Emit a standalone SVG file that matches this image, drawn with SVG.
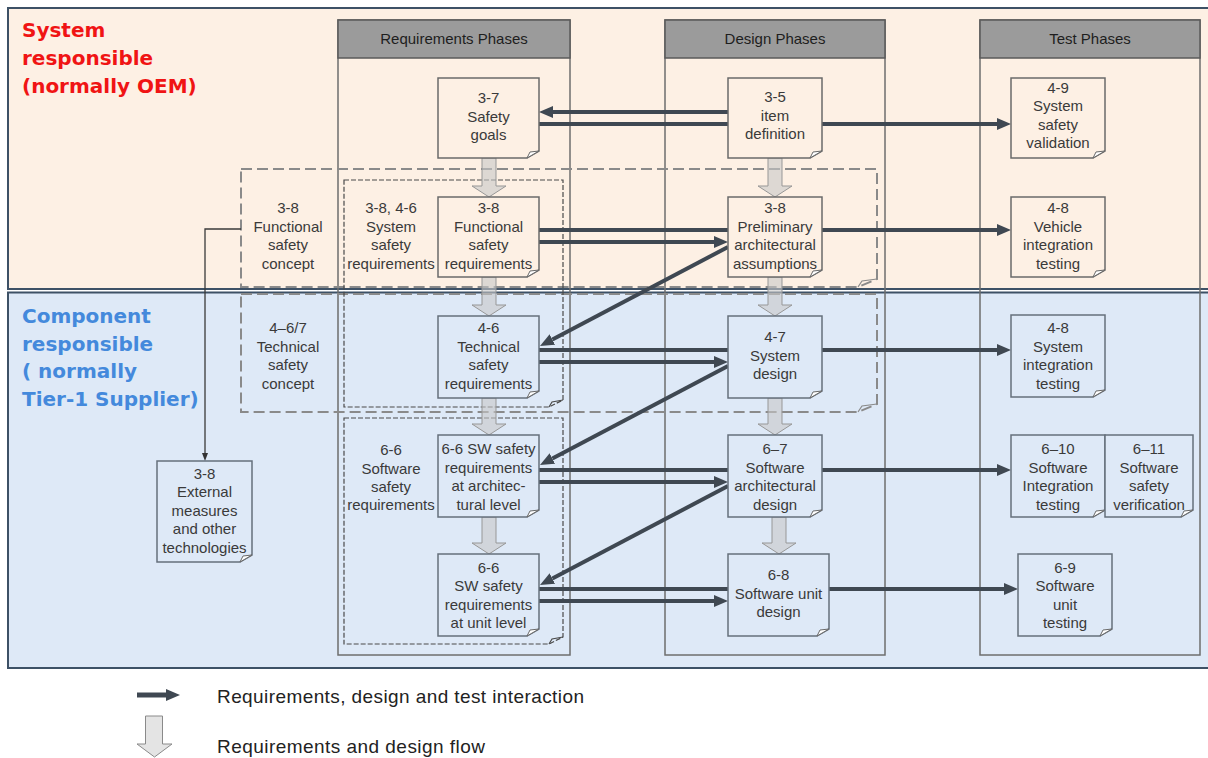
<svg xmlns="http://www.w3.org/2000/svg" width="1208" height="758" viewBox="0 0 1208 758">
<style>
.t{font-family:"Liberation Sans",Arial,sans-serif;font-size:15px;fill:#3a3a3a;text-anchor:middle}
.h{font-family:"Liberation Sans",Arial,sans-serif;font-size:15px;fill:#1e1e1e;text-anchor:middle}
.big{font-family:"DejaVu Sans",Verdana,sans-serif;font-size:20px;font-weight:bold}
.lg{font-family:"Liberation Sans",Arial,sans-serif;font-size:19px;fill:#222}
.col{fill:none;stroke:#6e6e6e;stroke-width:1.5}
.hdr{fill:#9b9b9b;stroke:#5a5a5a;stroke-width:1.5}
.nt{fill:#fdf0e4;stroke:#6a6a6a;stroke-width:1.5}
.nb{fill:#dee9f7;stroke:#66707c;stroke-width:1.5}
.fold{fill:#ffffff;stroke:#6a6a6a;stroke-width:1}
.dl{fill:none;stroke:#8a8a8a;stroke-width:2;stroke-dasharray:11 5}
.df{fill:none;stroke:#4a4a4a;stroke-width:1.2;stroke-dasharray:5 2}
.ar{fill:none;stroke:#3f4852;stroke-width:4}
.blk{fill:#c8c8c8;fill-opacity:0.6;stroke:#979797;stroke-width:1}
.thin{fill:none;stroke:#3a3a3a;stroke-width:1.3}
</style>
<defs>
<marker id="ah" markerUnits="userSpaceOnUse" markerWidth="14" markerHeight="12" refX="0" refY="6" orient="auto"><path d="M0,0 L14,6 L0,12 z" fill="#3f4852"/></marker>
<marker id="ahs" markerUnits="userSpaceOnUse" markerWidth="8" markerHeight="8" refX="0" refY="4" orient="auto"><path d="M0,1 L8,4 L0,7 z" fill="#333"/></marker>
</defs>

<g id="regions">
<rect x="8" y="8" width="1215" height="281" fill="#fdf0e4" stroke="#3d5166" stroke-width="2"/>
<rect x="8" y="292.5" width="1215" height="375.5" fill="#dee9f7" stroke="#3d5166" stroke-width="2"/>
<text class="big" fill="#f01414"><tspan x="22" y="37">System</tspan><tspan x="22" y="65">responsible</tspan><tspan x="22" y="92.5">(normally OEM)</tspan></text>
<text class="big" fill="#4489dc"><tspan x="22" y="323">Component</tspan><tspan x="22" y="350.5">responsible</tspan><tspan x="22" y="378">( normally</tspan><tspan x="22" y="406">Tier-1 Supplier)</tspan></text>
</g>

<g id="phases">
<rect class="col" x="338" y="20" width="232" height="635"/>
<rect class="hdr" x="338" y="20" width="232" height="38"/>
<text class="h" x="454" y="44">Requirements Phases</text>
<rect class="col" x="665" y="20" width="220" height="635"/>
<rect class="hdr" x="665" y="20" width="220" height="38"/>
<text class="h" x="775" y="44">Design Phases</text>
<rect class="col" x="980" y="20" width="220" height="635"/>
<rect class="hdr" x="980" y="20" width="220" height="38"/>
<text class="h" x="1090" y="44">Test Phases</text>
</g>

<g id="functional-safety-concept">
<path class="dl" d="M241,169 H877 V279 L858,287 H241 Z"/>
<path class="dl" d="M858,287 L862,281 L877,279" style="stroke-dasharray:none;stroke-width:1.2"/>
<text class="t"><tspan x="288" y="213">3-8</tspan><tspan x="288" y="231.5">Functional</tspan><tspan x="288" y="250">safety</tspan><tspan x="288" y="268.5">concept</tspan></text>
</g>
<g id="technical-safety-concept">
<path class="dl" d="M241,294 H877 V404 L858,412 H241 Z"/>
<path class="dl" d="M858,412 L862,406 L877,404" style="stroke-dasharray:none;stroke-width:1.2"/>
<text class="t"><tspan x="288" y="333">4–6/7</tspan><tspan x="288" y="351.5">Technical</tspan><tspan x="288" y="370">safety</tspan><tspan x="288" y="388.5">concept</tspan></text>
</g>
<g id="system-safety-requirements">
<path class="df" d="M344,180 H563 V400 L549,407 H344 Z"/>
<path class="df" d="M549,407 L552,402 L563,400" style="stroke-dasharray:none"/>
<text class="t"><tspan x="391" y="213">3-8, 4-6</tspan><tspan x="391" y="231.5">System</tspan><tspan x="391" y="250">safety</tspan><tspan x="391" y="268.5">requirements</tspan></text>
</g>
<g id="software-safety-requirements">
<path class="df" d="M344,418 H563 V637 L549,644 H344 Z"/>
<path class="df" d="M549,644 L552,639 L563,637" style="stroke-dasharray:none"/>
<text class="t"><tspan x="391" y="455">6-6</tspan><tspan x="391" y="473.5">Software</tspan><tspan x="391" y="492">safety</tspan><tspan x="391" y="510">requirements</tspan></text>
</g>

<g id="connectors">
<path class="ar" d="M728,112 H553" marker-end="url(#ah)"/>
<path class="ar" d="M539,124 H997" marker-end="url(#ah)"/>
<path class="ar" d="M539,230 H997" marker-end="url(#ah)"/>
<path class="ar" d="M539,242 H714" marker-end="url(#ah)"/>
<path class="ar" d="M728,247 L552.4,339.5" marker-end="url(#ah)"/>
<path class="ar" d="M539,350 H997" marker-end="url(#ah)"/>
<path class="ar" d="M539,362 H714" marker-end="url(#ah)"/>
<path class="ar" d="M728,366 L552.4,458.5" marker-end="url(#ah)"/>
<path class="ar" d="M539,470 H997" marker-end="url(#ah)"/>
<path class="ar" d="M539,482 H714" marker-end="url(#ah)"/>
<path class="ar" d="M728,486 L552.4,578.5" marker-end="url(#ah)"/>
<path class="ar" d="M539,589 H1004" marker-end="url(#ah)"/>
<path class="ar" d="M539,601 H714" marker-end="url(#ah)"/>
<path class="thin" d="M241,229 H205 V453" marker-end="url(#ahs)"/>
<path class="blk" d="M482,158 V186 H472 L489,197 L506,186 H496 V158 Z"/>
<path class="blk" d="M482,277 V305 H472 L489,316 L506,305 H496 V277 Z"/>
<path class="blk" d="M482,398 V424 H472 L489,435 L506,424 H496 V398 Z"/>
<path class="blk" d="M482,517 V543 H472 L489,554 L506,543 H496 V517 Z"/>
<path class="blk" d="M768,158 V186 H758 L775,197 L792,186 H782 V158 Z"/>
<path class="blk" d="M768,277 V305 H758 L775,316 L792,305 H782 V277 Z"/>
<path class="blk" d="M768,398 V424 H758 L775,435 L792,424 H782 V398 Z"/>
<path class="blk" d="M772,517 V543 H762 L779,554 L796,543 H786 V517 Z"/>
</g>

<g id="n-safety-goals">
<path class="nt" d="M438,78 H539 V151 L527,158 H438 Z"/><path class="fold" d="M527,158 L530,152 L539,151 Z"/>
<text class="t"><tspan x="488.5" y="103">3-7</tspan><tspan x="488.5" y="121.5">Safety</tspan><tspan x="488.5" y="140">goals</tspan></text>
</g>
<g id="n-item-definition">
<path class="nt" d="M728,78 H822 V151 L810,158 H728 Z"/><path class="fold" d="M810,158 L813,152 L822,151 Z"/>
<text class="t"><tspan x="775" y="102">3-5</tspan><tspan x="775" y="120.5">item</tspan><tspan x="775" y="139">definition</tspan></text>
</g>
<g id="n-system-safety-validation">
<path class="nt" d="M1011,78 H1105 V151 L1093,158 H1011 Z"/><path class="fold" d="M1093,158 L1096,152 L1105,151 Z"/>
<text class="t"><tspan x="1058" y="92.5">4-9</tspan><tspan x="1058" y="111">System</tspan><tspan x="1058" y="129.5">safety</tspan><tspan x="1058" y="148">validation</tspan></text>
</g>
<g id="n-functional-safety-requirements">
<path class="nt" d="M438,197 H539 V270 L527,277 H438 Z"/><path class="fold" d="M527,277 L530,271 L539,270 Z"/>
<text class="t"><tspan x="488.5" y="213">3-8</tspan><tspan x="488.5" y="231.5">Functional</tspan><tspan x="488.5" y="250">safety</tspan><tspan x="488.5" y="268.5">requirements</tspan></text>
</g>
<g id="n-preliminary-architectural-assumptions">
<path class="nt" d="M728,197 H822 V270 L810,277 H728 Z"/><path class="fold" d="M810,277 L813,271 L822,270 Z"/>
<text class="t"><tspan x="775" y="213">3-8</tspan><tspan x="775" y="231.5">Preliminary</tspan><tspan x="775" y="250">architectural</tspan><tspan x="775" y="268.5">assumptions</tspan></text>
</g>
<g id="n-vehicle-integration-testing">
<path class="nt" d="M1011,197 H1105 V270 L1093,277 H1011 Z"/><path class="fold" d="M1093,277 L1096,271 L1105,270 Z"/>
<text class="t"><tspan x="1058" y="213">4-8</tspan><tspan x="1058" y="231.5">Vehicle</tspan><tspan x="1058" y="250">integration</tspan><tspan x="1058" y="268.5">testing</tspan></text>
</g>
<g id="n-technical-safety-requirements">
<path class="nb" d="M438,316 H539 V391 L527,398 H438 Z"/><path class="fold" d="M527,398 L530,392 L539,391 Z"/>
<text class="t"><tspan x="488.5" y="333">4-6</tspan><tspan x="488.5" y="351.5">Technical</tspan><tspan x="488.5" y="370">safety</tspan><tspan x="488.5" y="388.5">requirements</tspan></text>
</g>
<g id="n-system-design">
<path class="nb" d="M728,316 H822 V391 L810,398 H728 Z"/><path class="fold" d="M810,398 L813,392 L822,391 Z"/>
<text class="t"><tspan x="775" y="342">4-7</tspan><tspan x="775" y="360.5">System</tspan><tspan x="775" y="379">design</tspan></text>
</g>
<g id="n-system-integration-testing">
<path class="nb" d="M1011,315 H1105 V390 L1093,397 H1011 Z"/><path class="fold" d="M1093,397 L1096,391 L1105,390 Z"/>
<text class="t"><tspan x="1058" y="333">4-8</tspan><tspan x="1058" y="351.5">System</tspan><tspan x="1058" y="370">integration</tspan><tspan x="1058" y="388.5">testing</tspan></text>
</g>
<g id="n-sw-req-architectural">
<path class="nb" d="M438,435 H539 V510 L527,517 H438 Z"/><path class="fold" d="M527,517 L530,511 L539,510 Z"/>
<text class="t"><tspan x="488.5" y="454">6-6 SW safety</tspan><tspan x="488.5" y="472.5">requirements</tspan><tspan x="488.5" y="491">at architec-</tspan><tspan x="488.5" y="509.5">tural level</tspan></text>
</g>
<g id="n-software-architectural-design">
<path class="nb" d="M728,435 H822 V510 L810,517 H728 Z"/><path class="fold" d="M810,517 L813,511 L822,510 Z"/>
<text class="t"><tspan x="775" y="454">6–7</tspan><tspan x="775" y="472.5">Software</tspan><tspan x="775" y="491">architectural</tspan><tspan x="775" y="509.5">design</tspan></text>
</g>
<g id="n-software-integration-testing">
<path class="nb" d="M1011,435 H1105 V510 L1093,517 H1011 Z"/><path class="fold" d="M1093,517 L1096,511 L1105,510 Z"/>
<text class="t"><tspan x="1058" y="454">6–10</tspan><tspan x="1058" y="472.5">Software</tspan><tspan x="1058" y="491">Integration</tspan><tspan x="1058" y="509.5">testing</tspan></text>
</g>
<g id="n-software-safety-verification">
<path class="nb" d="M1105,435 H1193 V510 L1181,517 H1105 Z"/><path class="fold" d="M1181,517 L1184,511 L1193,510 Z"/>
<text class="t"><tspan x="1149" y="454">6–11</tspan><tspan x="1149" y="472.5">Software</tspan><tspan x="1149" y="491">safety</tspan><tspan x="1149" y="509.5">verification</tspan></text>
</g>
<g id="n-sw-req-unit">
<path class="nb" d="M438,554 H539 V629 L527,636 H438 Z"/><path class="fold" d="M527,636 L530,630 L539,629 Z"/>
<text class="t"><tspan x="488.5" y="572.5">6-6</tspan><tspan x="488.5" y="591">SW safety</tspan><tspan x="488.5" y="609.5">requirements</tspan><tspan x="488.5" y="628">at unit level</tspan></text>
</g>
<g id="n-software-unit-design">
<path class="nb" d="M728,554 H829 V629 L817,636 H728 Z"/><path class="fold" d="M817,636 L820,630 L829,629 Z"/>
<text class="t"><tspan x="778.5" y="580">6-8</tspan><tspan x="778.5" y="598.5">Software unit</tspan><tspan x="778.5" y="617">design</tspan></text>
</g>
<g id="n-software-unit-testing">
<path class="nb" d="M1018,554 H1112 V629 L1100,636 H1018 Z"/><path class="fold" d="M1100,636 L1103,630 L1112,629 Z"/>
<text class="t"><tspan x="1065" y="572.5">6-9</tspan><tspan x="1065" y="591">Software</tspan><tspan x="1065" y="609.5">unit</tspan><tspan x="1065" y="628">testing</tspan></text>
</g>
<g id="n-external-measures">
<path class="nb" d="M157,461 H252 V555 L240,562 H157 Z"/><path class="fold" d="M240,562 L243,556 L252,555 Z"/>
<text class="t"><tspan x="204.5" y="478.5">3-8</tspan><tspan x="204.5" y="497">External</tspan><tspan x="204.5" y="515.5">measures</tspan><tspan x="204.5" y="534">and other</tspan><tspan x="204.5" y="552.5">technologies</tspan></text>
</g>

<g id="legend">
<path class="ar" d="M137,695 H166" style="stroke-width:5" marker-end="url(#ah)"/>
<text class="lg" x="217" y="703" textLength="367" lengthAdjust="spacing">Requirements, design and test interaction</text>
<path d="M145.5,716 V744 H137 L154.5,757 L172,744 H162.5 V716 Z" fill="#e4e4e4" stroke="#8a8a8a" stroke-width="1"/>
<text class="lg" x="217" y="753" textLength="268" lengthAdjust="spacing">Requirements and design flow</text>
</g>
</svg>
